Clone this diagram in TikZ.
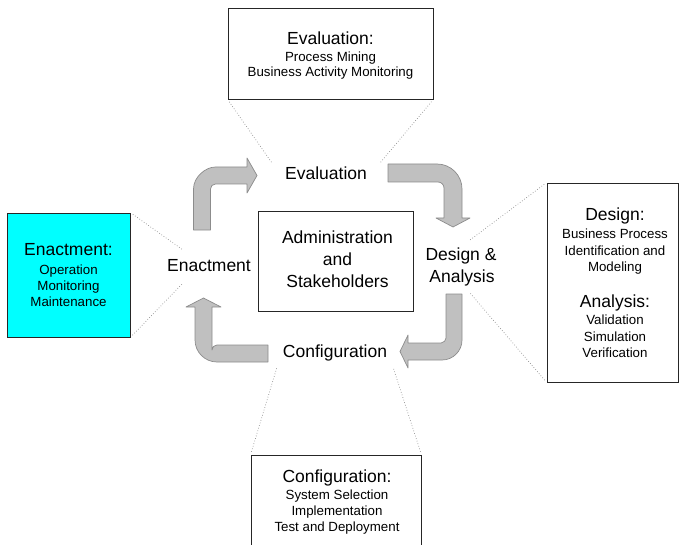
\documentclass[tikz,border=0pt]{standalone}
\usepackage{fontspec}
\setmainfont{Liberation Sans}
\newcommand\mytitlef{\fontsize{17.5}{20}\selectfont}
\newcommand\mysubf{\fontsize{13.3}{16}\selectfont}
\definecolor{arrfill}{RGB}{192,192,192}
\definecolor{arrline}{RGB}{140,140,140}
\definecolor{enactcyan}{RGB}{0,255,255}
\tikzset{
  infobox/.style={draw=black!85, line width=0.8pt, rectangle, inner sep=0pt},
  ttl/.style={font=\mytitlef, anchor=base, inner sep=0pt},
  sub/.style={font=\mysubf, anchor=base, inner sep=0pt},
  lbl/.style={font=\mytitlef, anchor=base, inner sep=0pt},
  zoomline/.style={draw=black!45, dotted, line width=0.7pt, shorten <=3pt},
  blockarrow/.style={fill=arrfill, draw=arrline, line width=0.7pt, line join=round}
}
\begin{document}
\begin{tikzpicture}[x=1pt,y=-1pt]
\useasboundingbox (0,0) rectangle (679,545);
\begin{scope}
\clip (0,0) rectangle (679,545);
% boxes
\node[infobox, minimum width=205pt, minimum height=91pt] (evalbox) at (330.5,53.5) {};
\node[infobox, fill=enactcyan, minimum width=123pt, minimum height=124pt] (enactbox) at (68.5,275) {};
\node[infobox, minimum width=131pt, minimum height=199pt] (designbox) at (612.5,282.5) {};
\node[infobox, minimum width=170pt, minimum height=94pt] (configbox) at (336,502) {};
\node[infobox, minimum width=155pt, minimum height=100pt] (centerbox) at (335.5,261) {};
\end{scope}

% Evaluation box text
\node[ttl] (evt) at (330.5,44.5) {Evaluation:};
\node[sub] (ev1) at (330.5,61.3) {Process Mining};
\node[sub] (ev2) at (330.5,76.3) {Business Activity Monitoring};

% Enactment box text
\node[ttl] (ent) at (68.5,255.5) {Enactment:};
\node[sub] (en1) at (68.5,274.3) {Operation};
\node[sub] (en2) at (68.5,290.3) {Monitoring};
\node[sub] (en3) at (68.5,306.3) {Maintenance};

% Design box text
\node[ttl] (dst) at (615,220.5) {Design:};
\node[sub] (ds1) at (615,238.3) {Business Process};
\node[sub] (ds2) at (615,255.3) {Identification and};
\node[sub] (ds3) at (615,271.3) {Modeling};
\node[ttl] (ant) at (615,307.5) {Analysis:};
\node[sub] (an1) at (615,324.3) {Validation};
\node[sub] (an2) at (615,341.3) {Simulation};
\node[sub] (an3) at (615,357.3) {Verification};

% Configuration box text
\node[ttl] (cft) at (337,482.5) {Configuration:};
\node[sub] (cf1) at (337,499.3) {System Selection};
\node[sub] (cf2) at (337,515.3) {Implementation};
\node[sub] (cf3) at (337,531.3) {Test and Deployment};

% Center box text
\node[lbl] (adm1) at (337.5,243.5) {Administration};
\node[lbl] (adm2) at (337.5,265.5) {and};
\node[lbl] (adm3) at (337.5,287.5) {Stakeholders};

% cycle labels
\node[lbl] (evl) at (326,179.5) {Evaluation};
\node[lbl] (enl) at (209,271.5) {Enactment};
\node[lbl] (dsl) at (461,260.5) {Design \&};
\node[lbl] (anl) at (462,282.5) {Analysis};
\node[lbl] (cfl) at (335,357.5) {Configuration};

% dotted zoom lines
\coordinate (evA) at (272,163);
\coordinate (evB) at (380,163);
\coordinate (enA) at (183,250);
\coordinate (enB) at (183,283);
\coordinate (dsA) at (470,240);
\coordinate (dsB) at (470,293);
\coordinate (cfA) at (277,367);
\coordinate (cfB) at (393,367);
\draw[zoomline] (evalbox.south west) -- (evA);
\draw[zoomline] (evalbox.south east) -- (evB);
\draw[zoomline] (enactbox.north east) -- (enA);
\draw[zoomline] (enactbox.south east) -- (enB);
\draw[zoomline] (designbox.north west) -- (dsA);
\draw[zoomline] (designbox.south west) -- (dsB);
\draw[zoomline] (configbox.north west) -- (cfA);
\draw[zoomline] (configbox.north east) -- (cfB);

% block arrows
% Enactment -> Evaluation
\draw[blockarrow] (193.5,230) -- (193.5,189) .. controls (193.5,176.9) and (205.6,167) .. (215.5,167)
  -- (247,167) -- (247,158) -- (257,175.5) -- (247,193) -- (247,184) -- (215.5,184)
  .. controls (212.7,184) and (210.5,186.2) .. (210.5,189) -- (210.5,230) -- cycle;
% Evaluation -> Design
\draw[blockarrow] (388,164) -- (437,164) .. controls (450.8,164) and (462,175.2) .. (462,189)
  -- (462,218) -- (470,218) -- (453,227) -- (436,218) -- (444,218) -- (444,188)
  .. controls (444,184.7) and (441.3,182) .. (438,182) -- (388,182) -- cycle;
% Design -> Configuration
\draw[blockarrow] (446,294) -- (462,294) -- (462,340) .. controls (462,351) and (453,360) .. (442,360)
  -- (408,360) -- (408,368) -- (400,351.5) -- (408,335) -- (408,343) -- (441,343)
  .. controls (443.8,343) and (446,340.2) .. (446,338) -- cycle;
% Configuration -> Enactment
\draw[blockarrow] (268,345) -- (268,362) -- (217,362) .. controls (204.9,362) and (195,352.1) .. (195,340)
  -- (195,307) -- (186,307) -- (203.5,298) -- (221,307) -- (212,307) -- (212,350)
  .. controls (212,347.2) and (214.2,345) .. (217,345) -- cycle;
\end{tikzpicture}
\end{document}
